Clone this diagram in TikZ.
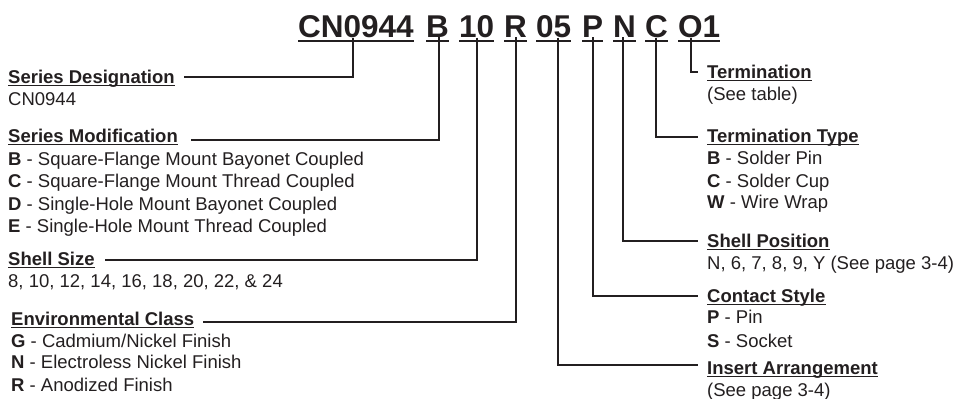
\documentclass[tikz,border=0pt]{standalone}
\usepackage{fontspec}
\setmainfont{Liberation Sans}
\usetikzlibrary{positioning,calc}
\definecolor{inkgray}{RGB}{35,31,32}

\tikzset{
  code/.style={font=\fontsize{31.5}{36}\selectfont\bfseries, inner sep=0pt, anchor=base west},
  hdr/.style={font=\fontsize{18.5}{22}\selectfont\bfseries, inner sep=0pt, anchor=base west},
  txt/.style={font=\fontsize{18.5}{22}\selectfont, inner sep=0pt, anchor=base west},
  lead/.style={line width=2pt},
  codeline/.style={line width=1.6pt},
  hdrline/.style={line width=1pt}
}

\begin{document}
\begin{tikzpicture}[x=1pt, y=-1pt, color=inkgray, text=inkgray]
\useasboundingbox (0,0) rectangle (959,399);

% Part number, one token per node
\foreach \nm/\px/\tx in {cn/298/CN0944, b/426/B, ten/459/10, r/504/R, ofive/536/05,
                         p/582/P, n/613/N, c/645/C, oone/678/O1}{
  \node[code] (\nm) at (\px,37) {\tx};
  \draw[codeline] ([yshift=-3.5pt]\nm.south west) -- ([yshift=-3.5pt]\nm.south east);
}

% Left column
\node[hdr] (sd) at (8,83) {Series Designation};
\node[txt] (sd1) at (8,105) {CN0944};

\node[hdr] (sm) at (8,142) {Series Modification};
\node[txt] (sm1) at (8,165) {\textbf{B} - Square-Flange Mount Bayonet Coupled};
\node[txt] (sm2) at (8,187) {\textbf{C} - Square-Flange Mount Thread Coupled};
\node[txt] (sm3) at (8,210) {\textbf{D} - Single-Hole Mount Bayonet Coupled};
\node[txt] (sm4) at (8,232) {\textbf{E} - Single-Hole Mount Thread Coupled};

\node[hdr] (ss) at (8,265) {Shell Size};
\node[txt] (ss1) at (8,287) {8, 10, 12, 14, 16, 18, 20, 22, \& 24};

\node[hdr] (ec) at (11,325) {Environmental Class};
\node[txt] (ec1) at (11,347) {\textbf{G} - Cadmium/Nickel Finish};
\node[txt] (ec2) at (11,368) {\textbf{N} - Electroless Nickel Finish};
\node[txt] (ec3) at (11,391) {\textbf{R} - Anodized Finish};

% Right column
\node[hdr] (tm) at (707,78) {Termination};
\node[txt] (tm1) at (707,100) {(See table)};

\node[hdr] (tt) at (707,142) {Termination Type};
\node[txt] (tt1) at (707,164) {\textbf{B} - Solder Pin};
\node[txt] (tt2) at (707,187) {\textbf{C} - Solder Cup};
\node[txt] (tt3) at (707,208) {\textbf{W} - Wire Wrap};

\node[hdr] (sp) at (707,247) {Shell Position};
\node[txt] (sp1) at (707,269) {N, 6, 7, 8, 9, Y (See page 3-4)};

\node[hdr] (cs) at (707,302) {Contact Style};
\node[txt] (cs1) at (707,323) {\textbf{P} - Pin};
\node[txt] (cs2) at (707,347) {\textbf{S} - Socket};

\node[hdr] (ia) at (707,374) {Insert Arrangement};
\node[txt] (ia1) at (707,396) {(See page 3-4)};

% Header underlines
\foreach \nm in {sd,sm,ss,ec,tm,tt,sp,cs,ia}{
  \draw[hdrline] ([yshift=-2.5pt]\nm.base west) -- ([yshift=-2.5pt]\nm.base east);
}

% Leader lines: token / x shift / header / y offset / gap / anchor
\foreach \nm/\dx/\hd/\dy/\gp/\an in {cn/-3/sd/6/9/east, b/1.5/sm/2/13/east,
    ten/0.5/ss/5/10/east, r/0/ec/3/9/east, ofive/4/ia/9/-9/west,
    p/0/cs/6/-9/west, n/-1.5/sp/6/-9/west, c/-1/tt/5/-9/west, oone/-8/tm/6/-9/west}{
  \draw[lead] ([xshift=\dx pt]\nm.south) |- ([xshift=\gp pt,yshift=\dy pt]\hd.base \an);
}
\end{tikzpicture}
\end{document}
